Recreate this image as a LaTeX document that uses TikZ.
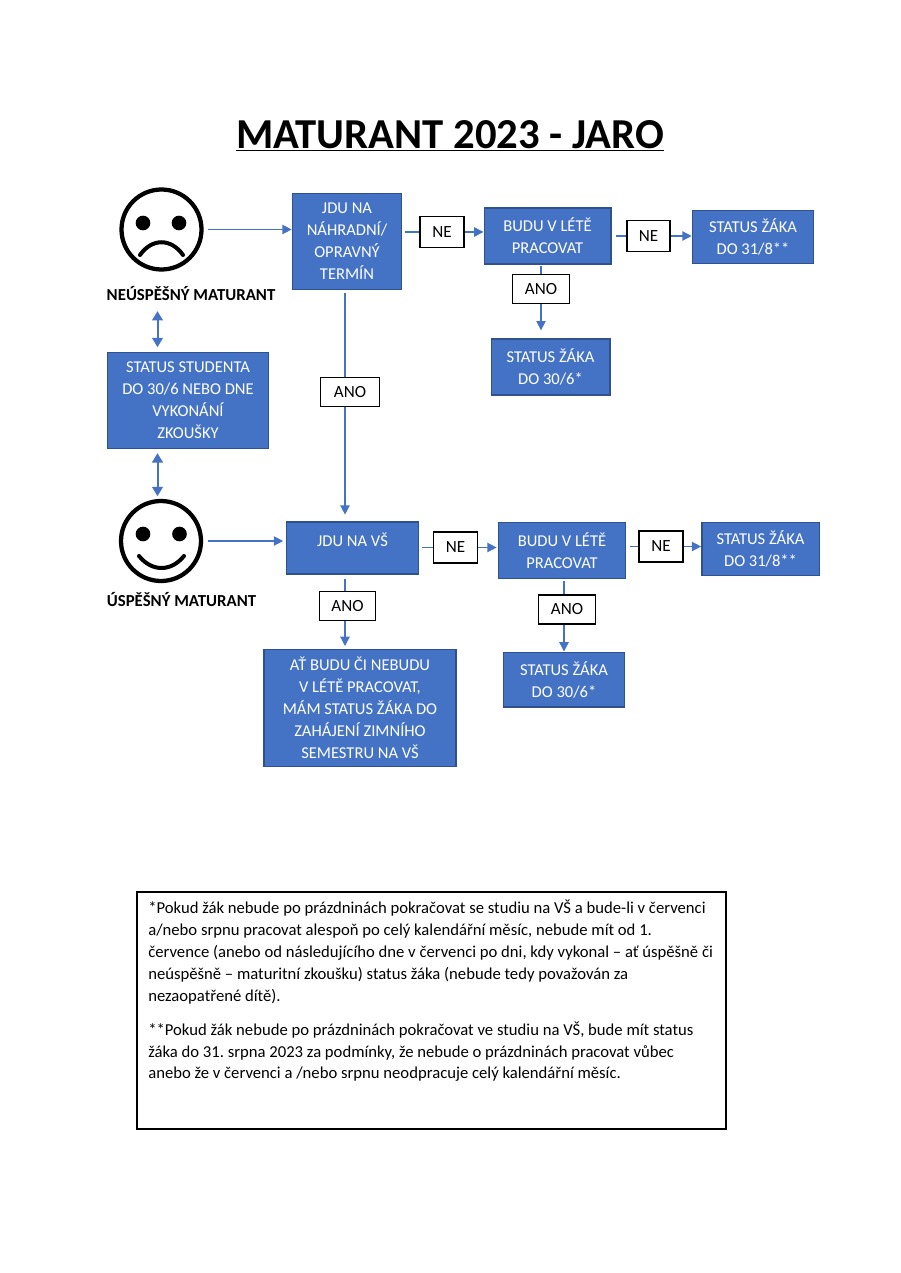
\documentclass[tikz,border=0pt]{standalone}
\usepackage{fontspec}
\setmainfont{Carlito}
\usetikzlibrary{arrows.meta}
\frenchspacing
\definecolor{boxblue}{RGB}{68,114,196}
\definecolor{boxedge}{RGB}{47,82,143}
\tikzset{
	bluebox/.style={draw=boxedge,fill=boxblue,text=white,line width=1pt,align=center,font=\fontsize{12.4}{16.5}\selectfont,inner sep=0pt},
	answer/.style={draw=black,fill=white,line width=1.2pt,inner sep=0pt,font=\fontsize{12.8}{15}\selectfont},
	face/.style={circle,draw=black,line width=3.2pt,minimum size=60pt,inner sep=0pt},
	facelabel/.style={font=\bfseries\fontsize{12.6}{15}\selectfont},
	flow/.style={draw=boxblue,line width=1pt,-{Triangle[length=7pt,width=7pt]}},
	flowline/.style={draw=boxblue,line width=1pt},
	both/.style={draw=boxblue,line width=1.5pt,{Triangle[length=7pt,width=8pt]}-{Triangle[length=7pt,width=8pt]}}
}
\begin{document}
\begin{tikzpicture}[x=0.75pt,y=-0.75pt]
	\useasboundingbox (0,0) rectangle (900,1273);
	
	% Title
	\node (title) at (450,136) {\bfseries\fontsize{32}{38}\selectfont\underline{MATURANT 2023 - JARO}};
	
	% Sad face
	\node[face] (sad) at (161.5,229.5) {};
	\fill (143,223) circle (5.5pt);
	\fill (179,223) circle (5.5pt);
	\draw[line width=3pt,line cap=round] (140,255) .. controls (152,238) and (171,238) .. (183,255);
	\node[facelabel] (sadlabel) at (191,294) {NEÚSPĚŠNÝ MATURANT};
	
	% Happy face
	\node[face] (happy) at (161,541) {};
	\fill (143,534) circle (5.5pt);
	\fill (179.5,534) circle (5.5pt);
	\draw[line width=3pt,line cap=round] (139,556) .. controls (152,572) and (171,572) .. (184,556);
	\node[facelabel] (happylabel) at (181.5,600) {ÚSPĚŠNÝ MATURANT};
	
	% Student status
	\node[bluebox,minimum width=121pt,minimum height=72pt] (student) at (188,400.5) {STATUS STUDENTA\\DO 30/6 NEBO DNE\\VYKONÁNÍ\\ZKOUŠKY};
	
	% Upper row
	\node[bluebox,minimum width=82pt,minimum height=72pt] (retake) at (347,241.5) {JDU NA\\NÁHRADNÍ/\\OPRAVNÝ\\TERMÍN};
	\node[answer,minimum width=33pt,minimum height=23pt] (upne) at (442,232) {NE};
	\node[bluebox,minimum width=95pt,minimum height=42pt] (upwork) at (547.5,236) {BUDU V LÉTĚ\\PRACOVAT};
	\node[answer,minimum width=32pt,minimum height=23pt] (upnetwo) at (648.5,236) {NE};
	\node[bluebox,minimum width=91pt,minimum height=40pt] (upaug) at (753,237) {STATUS ŽÁKA\\DO 31/8**};
	\node[answer,minimum width=43pt,minimum height=22pt] (upano) at (541,289) {ANO};
	\node[bluebox,minimum width=89pt,minimum height=42pt] (upjun) at (550.5,367) {STATUS ŽÁKA\\DO 30/6*};
	\node[answer,minimum width=44pt,minimum height=22pt] (midano) at (350,392) {ANO};
	
	% Lower row
	\node[bluebox,minimum width=99pt,minimum height=39pt,text height=18pt,text depth=21pt] (uni) at (352.5,548) {JDU NA VŠ};
	\node[answer,minimum width=33pt,minimum height=23pt] (lowne) at (455.5,547.5) {NE};
	\node[bluebox,minimum width=95pt,minimum height=42pt] (lowwork) at (562,550.5) {BUDU V LÉTĚ\\PRACOVAT};
	\node[answer,minimum width=33pt,minimum height=23pt] (lownetwo) at (661,546.5) {NE};
	\node[bluebox,minimum width=88pt,minimum height=40pt] (lowaug) at (760.5,549) {STATUS ŽÁKA\\DO 31/8**};
	\node[answer,minimum width=42pt,minimum height=22pt] (lowano) at (347.5,606) {ANO};
	\node[answer,minimum width=43pt,minimum height=22pt] (lowanotwo) at (567,609.5) {ANO};
	\node[bluebox,minimum width=144pt,minimum height=88pt] (winter) at (360,708) {AŤ BUDU ČI NEBUDU\\V LÉTĚ PRACOVAT,\\MÁM STATUS ŽÁKA DO\\ZAHÁJENÍ ZIMNÍHO\\SEMESTRU NA VŠ};
	\node[bluebox,minimum width=91pt,minimum height=41pt] (lowjun) at (564,679.5) {STATUS ŽÁKA\\DO 30/6*};
	
	% Line positions
	\coordinate (statusline) at (157.5,0);
	\coordinate (midline) at (345,0);
	\coordinate (lowline) at (564,0);
	
	% Arrows from the faces
	\draw[flow,shorten <=3pt] (sad.east) -- (sad.east -| retake.west);
	\draw[flow,shorten <=4pt,shorten >=2pt] (happy.east) -- (happy.east -| uni.west);
	\draw[both,shorten <=4pt,shorten >=3.5pt] (statusline |- sadlabel.south) -- (statusline |- student.north);
	\draw[both,shorten <=3pt,shorten >=2pt] (statusline |- student.south) -- (statusline |- happy.north);
	
	% Upper connectors
	\draw[flowline,shorten <=2pt] (retake.east |- upne.west) -- (upne.west);
	\draw[flow] (upne.east) -- (upne.east -| upwork.west);
	\draw[flowline,shorten <=3.5pt] (upwork.east |- upnetwo.west) -- (upnetwo.west);
	\draw[flow] (upnetwo.east) -- (upnetwo.east -| upaug.west);
	\draw[flowline,shorten >=1pt] (upano.north) -- (upano.north |- upwork.south);
	\draw[flow,shorten >=6pt] (upano.south) -- (upano.south |- upjun.north);
	\draw[flowline,shorten <=2pt] (midline |- retake.south) -- (midline |- midano.north);
	\draw[flow,shorten >=5pt] (midline |- midano.south) -- (midline |- uni.north);
	
	% Lower connectors
	\draw[flowline,shorten <=2pt] (uni.east |- lowne.west) -- (lowne.west);
	\draw[flow,shorten >=1pt] (lowne.east) -- (lowne.east -| lowwork.west);
	\draw[flowline,shorten <=3pt] (lowwork.east |- lownetwo.west) -- (lownetwo.west);
	\draw[flow] (lownetwo.east) -- (lownetwo.east -| lowaug.west);
	\draw[flowline,shorten <=3pt] (midline |- uni.south) -- (midline |- lowano.north);
	\draw[flow,shorten >=2pt] (midline |- lowano.south) -- (midline |- winter.north);
	\draw[flowline,shorten <=1.5pt] (lowline |- lowwork.south) -- (lowline |- lowanotwo.north);
	\draw[flow] (lowline |- lowanotwo.south) -- (lowline |- lowjun.north);
	
	% Footnotes
	\node[draw=black,line width=1.2pt,minimum width=442pt,minimum height=178pt,anchor=north west,inner sep=0pt] (notebox) at (136,891) {};
	\node[anchor=north west,align=left,inner sep=0pt,font=\fontsize{12.5}{16.4}\selectfont] (notes) at (148,900) {*Pokud žák nebude po prázdninách pokračovat se studiu na VŠ a bude-li v červenci\\a/nebo srpnu pracovat alespoň po celý kalendářní měsíc, nebude mít od 1.\\července (anebo od následujícího dne v červenci po dni, kdy vykonal – ať úspěšně či\\neúspěšně – maturitní zkoušku) status žáka (nebude tedy považován za\\nezaopatřené dítě).\\[9pt]**Pokud žák nebude po prázdninách pokračovat ve studiu na VŠ, bude mít status\\žáka do 31. srpna 2023 za podmínky, že nebude o prázdninách pracovat vůbec\\anebo že v červenci a /nebo srpnu neodpracuje celý kalendářní měsíc.};
	
\end{tikzpicture}
\end{document}
